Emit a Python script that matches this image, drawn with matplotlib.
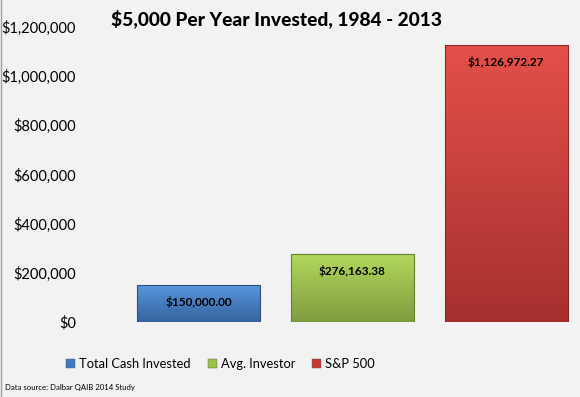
import matplotlib
matplotlib.use("Agg")
import matplotlib.pyplot as plt
import numpy as np
from matplotlib.colors import LinearSegmentedColormap
from matplotlib.ticker import FuncFormatter

categories = ["Total Cash Invested", "Avg. Investor", "S&P 500"]
values = [150000.00, 276163.38, 1126972.27]
value_labels = ["$150,000.00", "$276,163.38", "$1,126,972.27"]
yticks = [0, 200000, 400000, 600000, 800000, 1000000, 1200000]

top_colors = ["#5896dc", "#b3d75c", "#e4504b"]
bot_colors = ["#35639f", "#7f9c3f", "#a5302e"]
edge_colors = ["#2c4f7c", "#66802e", "#8a2826"]
legend_colors = ["#3f7ac2", "#9bc34a", "#c63b38"]

plt.rcParams['font.family'] = ['Lato', 'DejaVu Sans']

fig = plt.figure(figsize=(5.8, 3.97), dpi=100)
fig.patch.set_facecolor("#f2f2f2")
ax = fig.add_axes([0.15, 0.189, 0.85, 0.743])
ax.set_facecolor("#f2f2f2")

x = np.arange(len(categories))
bars = ax.bar(x, values, width=0.8, color="none", edgecolor="none", zorder=2)
for b, tc, bc, ec, lab in zip(bars, top_colors, bot_colors, edge_colors, value_labels):
    x0, y0 = b.get_x(), b.get_y()
    w, h = b.get_width(), b.get_height()
    cmap = LinearSegmentedColormap.from_list("g", [bc, tc])
    grad = np.linspace(0, 1, 256).reshape(-1, 1)
    im = ax.imshow(grad, cmap=cmap, origin="lower", aspect="auto",
                   extent=[x0, x0 + w, y0, y0 + h], zorder=2)
    im.set_clip_path(b)
    ax.add_patch(plt.Rectangle((x0, y0), w, h, fill=False, edgecolor=ec, lw=0.8, zorder=3))
    ax.annotate(lab, (x0 + w / 2, y0 + h), xytext=(0, -12), textcoords="offset points",
                ha="center", va="center", fontsize=8.5, fontweight="bold", color="black", zorder=4)

ax.set_xlim(-0.725, 2.48)
ax.set_ylim(0, 1200000)
ax.set_yticks(yticks)
ax.yaxis.set_major_formatter(FuncFormatter(lambda v, p: "${:,.0f}".format(v)))
ax.tick_params(axis="y", length=0, labelsize=10.5, pad=8)
ax.set_xticks([])
for s in ax.spines.values():
    s.set_visible(False)

fig.text(0.476, 0.953, "$5,000 Per Year Invested, 1984 - 2013", ha="center", va="center",
         fontsize=13.8, fontweight="black")

handles = [plt.Rectangle((0, 0), 1, 1, facecolor=c, edgecolor="#555555", lw=0.3) for c in legend_colors]
fig.legend(handles, categories, loc="center", bbox_to_anchor=(0.38, 0.083), ncol=3,
           frameon=False, fontsize=9.3, handlelength=0.7, handleheight=0.7,
           handletextpad=0.3, columnspacing=1.3)

fig.text(0.009, 0.025, "Data source: Dalbar QAIB 2014 Study", fontsize=5.6, ha="left", va="center")
fig.add_artist(plt.Line2D([0.001, 0.001], [0, 1], color="#a0a0a0", lw=1, transform=fig.transFigure))

fig.savefig("out.png", dpi=100, facecolor=fig.get_facecolor())
